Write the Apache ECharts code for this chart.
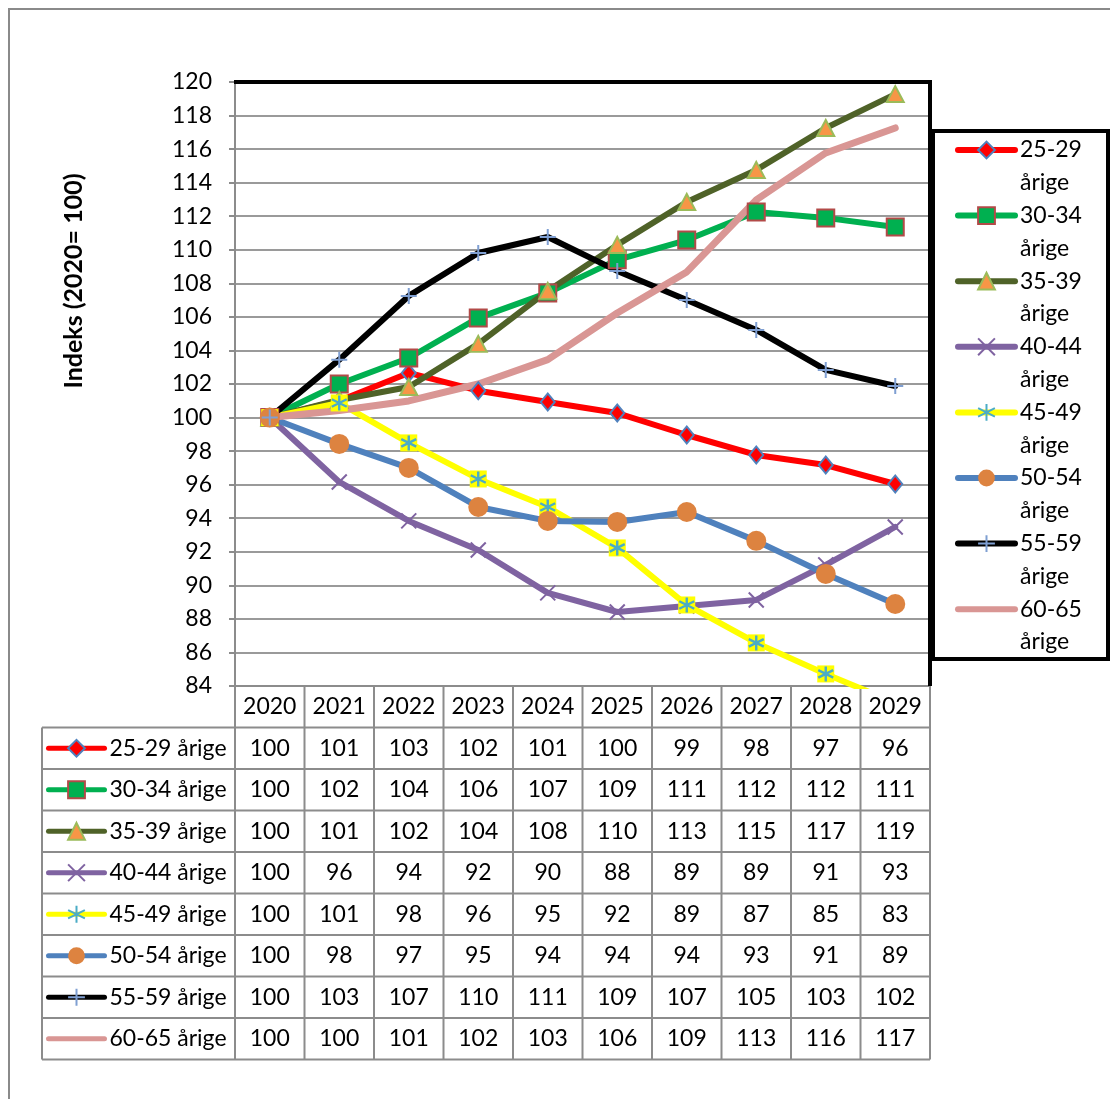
<!DOCTYPE html>
<html><head><meta charset="utf-8">
<script src="https://cdn.jsdelivr.net/npm/echarts@6/dist/echarts.min.js"></script>
<style>html,body{margin:0;padding:0;background:#fff}#c{width:1110px;height:1099px}</style>
</head><body><div id="c"></div>
<script>
// ---------- DATA ----------
const years = ['2020','2021','2022','2023','2024','2025','2026','2027','2028','2029'];
const seriesNames = ['25-29 årige','30-34 årige','35-39 årige','40-44 årige','45-49 årige','50-54 årige','55-59 årige','60-65 årige'];
const v2529 = [100, 101.0, 102.66, 101.6, 100.93, 100.27, 98.96, 97.77, 97.17, 96.04];
const v3034 = [100, 102.0, 103.55, 105.94, 107.43, 109.4, 110.58, 112.25, 111.9, 111.36];
const v3539 = [100, 101.05, 101.82, 104.39, 107.55, 110.29, 112.85, 114.76, 117.26, 119.28];
const v4044 = [100, 96.16, 93.84, 92.11, 89.55, 88.41, 88.77, 89.13, 91.22, 93.48];
const v4549 = [100, 100.87, 98.49, 96.34, 94.67, 92.23, 88.83, 86.57, 84.72, 83.0];
const v5054 = [100, 98.43, 97.0, 94.67, 93.84, 93.78, 94.37, 92.65, 90.68, 88.89];
const v5559 = [100, 103.45, 107.25, 109.81, 110.76, 108.74, 107.01, 105.22, 102.84, 101.88];
const v6065 = [100, 100.42, 100.99, 102.0, 103.45, 106.23, 108.68, 112.97, 115.77, 117.26];
const seriesValues = [v2529, v3034, v3539, v4044, v4549, v5054, v5559, v6065];
const yMin = 84, yMax = 120, yStep = 2;
const yTitle = 'Indeks (2020= 100)';

// ---------- STYLE ----------
const FONT = 'Lato';
const FS = 23;
const gridL = 235, gridR = 930, gridT = 82, gridB = 686, W = 1110, H = 1099;
const rowH = 41.5;
const styles = [
  {line:'#FF0000', symbol:'diamond', size:[14,17], fill:'#FF0000', border:'#4F81BD', bw:2},
  {line:'#00B050', symbol:'rect', size:17, fill:'#00B050', border:'#B24A48', bw:2},
  {line:'#4F6228', symbol:'triangle', size:[17,16], fill:'#F79646', border:'#9BBB59', bw:2},
  {line:'#7F63A1', symbol:'path://M0,0L10,10M10,0L0,10', size:15, fill:'#7F63A1', border:'#7F63A1', bw:2},
  {line:'#FFFF00', symbol:'path://M5,0L5,10M0.7,2.5L9.3,7.5M9.3,2.5L0.7,7.5', size:15, fill:'#4BACC6', border:'#4BACC6', bw:2.4},
  {line:'#4F81BD', symbol:'circle', size:20, fill:'#DD8340', border:'#DD8340', bw:0},
  {line:'#000000', symbol:'path://M5,0L5,10M0,5L10,5', size:16, fill:'#7F9FD2', border:'#7F9FD2', bw:2},
  {line:'#D99694', symbol:'none', size:0, fill:'#D99694', border:'#D99694', bw:0}
];

const chart = echarts.init(document.getElementById('c'), null, {renderer:'canvas', width:W, height:H});

const seriesList = [];
seriesNames.forEach((n, i) => {
  const s = styles[i];
  if (i === 4) {
    seriesList.push({
      name: '45-49 bg', type: 'line', data: seriesValues[i], symbol: 'rect', symbolSize: 17,
      lineStyle: {width: 0, opacity: 0}, itemStyle: {color: '#FFFF00', borderWidth: 0},
      silent: true, z: 2
    });
  }
  seriesList.push({
    name: n, type: 'line', data: seriesValues[i],
    symbol: s.symbol, symbolSize: s.size, showSymbol: s.symbol !== 'none',
    lineStyle: {color: s.line, width: i === 7 ? 7 : 6, cap: 'round', join: 'round'},
    itemStyle: {color: s.fill, borderColor: s.border, borderWidth: s.bw},
    z: 2
  });
});

// legend entries (no marker for the last series)
const legendData = seriesNames.map((n, i) => styles[i].symbol === 'none'
  ? {name: n, itemStyle: {color: 'rgba(0,0,0,0)', borderColor: 'rgba(0,0,0,0)', borderWidth: 0, opacity: 0}}
  : {name: n});

// table text via x-axis labels
const rich = {
  y: {fontFamily: FONT, fontSize: FS, lineHeight: rowH, color: '#000'},
  v: {fontFamily: FONT, fontSize: FS, lineHeight: rowH, color: '#000'}
};
function tableColumn(val, idx) {
  const parts = ['{y|' + val + '}'];
  seriesValues.forEach(arr => parts.push('{v|' + Math.round(arr[idx]) + '}'));
  return parts.join('\n');
}

// table grid lines
const colW = (gridR - gridL) / years.length;
const tableTop = gridB + rowH;
const tableBottom = tableTop + seriesNames.length * rowH;
const lineStyleT = {stroke: '#8c8c8c', lineWidth: 2};
const graphics = [];
for (let i = 0; i <= seriesNames.length; i++) {
  const y = tableTop + i * rowH;
  graphics.push({type: 'line', shape: {x1: 42, y1: y, x2: gridR, y2: y}, style: lineStyleT, silent: true});
}
for (let j = 0; j <= years.length; j++) {
  const x = gridL + j * colW;
  graphics.push({type: 'line', shape: {x1: x, y1: gridB, x2: x, y2: tableBottom}, style: lineStyleT, silent: true});
}
graphics.push({type: 'line', shape: {x1: 42, y1: tableTop, x2: 42, y2: tableBottom}, style: lineStyleT, silent: true});
// plot top/right border
graphics.push({type: 'polyline', shape: {points: [[gridL - 1, gridT], [gridR, gridT], [gridR, gridB]]}, style: {stroke: '#000', lineWidth: 4, fill: null}, silent: true, z: 10});
// legend box
graphics.push({type: 'rect', shape: {x: 933, y: 131, width: 175, height: 528}, style: {stroke: '#000', lineWidth: 4, fill: null}, silent: true});
// outer frame
graphics.push({type: 'rect', shape: {x: 9, y: 9, width: 1300, height: 1300}, style: {stroke: '#8a8a8a', lineWidth: 2, fill: null}, silent: true});
// y title
graphics.push({type: 'text', x: 74, y: 281, rotation: Math.PI / 2, style: {text: yTitle, font: 'bold 25px ' + FONT, fill: '#000', align: 'center', verticalAlign: 'middle'}, silent: true});

const option = {
  animation: false,
  backgroundColor: '#fff',
  grid: {left: gridL, top: gridT, width: gridR - gridL, height: gridB - gridT, containLabel: false, outerBoundsMode: 'none'},
  xAxis: {
    type: 'category', data: years, boundaryGap: true,
    axisLine: {show: true, lineStyle: {color: '#8c8c8c', width: 2}},
    axisTick: {show: false},
    splitLine: {show: false},
    axisLabel: {interval: 0, margin: 0, hideOverlap: false, formatter: tableColumn, rich: rich}
  },
  yAxis: {
    type: 'value', min: yMin, max: yMax, interval: yStep,
    axisLine: {show: true, lineStyle: {color: '#8c8c8c', width: 2}},
    axisTick: {show: true, inside: false, length: 6, lineStyle: {color: '#8c8c8c', width: 2}},
    axisLabel: {fontFamily: FONT, fontSize: FS, color: '#000', margin: 23},
    splitLine: {show: true, lineStyle: {color: '#9a9a9a', width: 2}}
  },
  legend: [
    {
      data: legendData, orient: 'vertical', left: 955, top: 100.8, padding: 0,
      itemWidth: 57, itemHeight: 21, itemGap: -32.8,
      lineStyle: {width: 6, cap: 'round'},
      formatter: n => ' \n' + n.replace(' ', '\n'),
      textStyle: {fontFamily: FONT, fontSize: FS, color: '#000', lineHeight: 32.8},
      selectedMode: false
    },
    {
      data: legendData, orient: 'vertical', left: 46, top: tableTop, padding: 0,
      itemWidth: 56, itemHeight: 21, itemGap: 0,
      lineStyle: {width: 5, cap: 'round'},
      textStyle: {fontFamily: FONT, fontSize: FS, color: '#000', lineHeight: rowH},
      selectedMode: false
    }
  ],
  series: seriesList,
  graphic: graphics
};
chart.setOption(option);
</script></body></html>
